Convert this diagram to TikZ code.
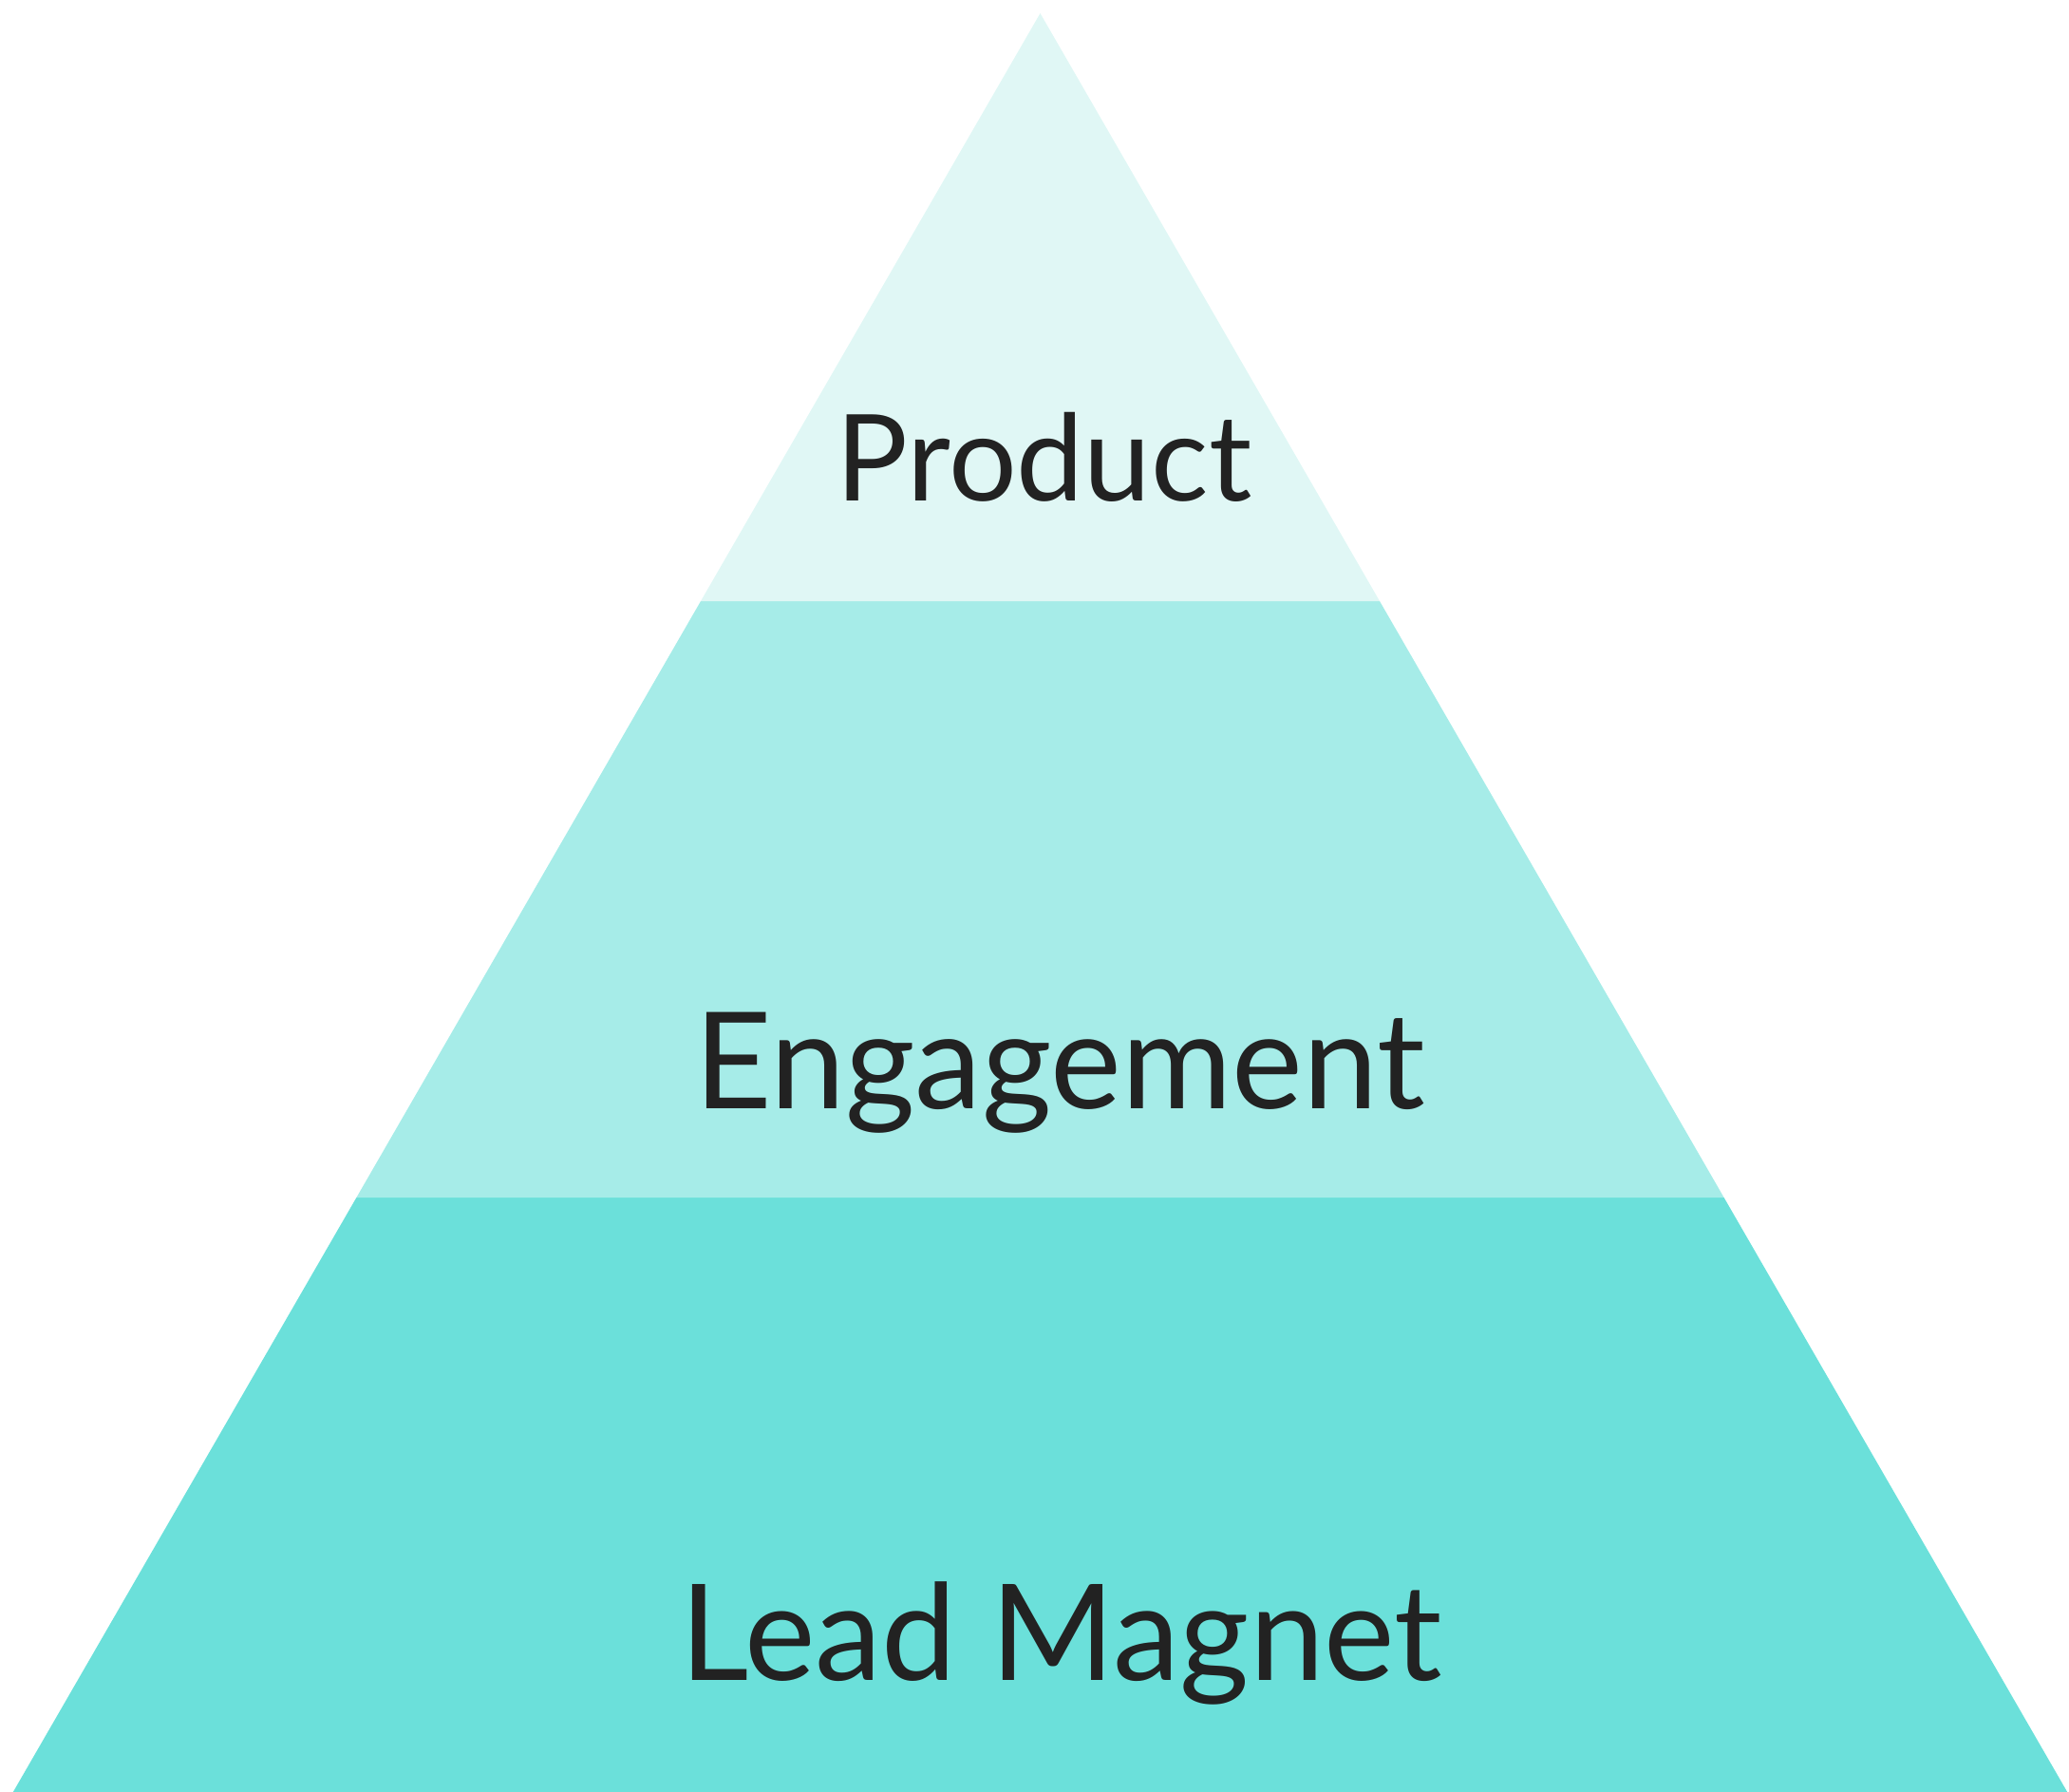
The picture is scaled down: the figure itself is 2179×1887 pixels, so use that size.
\documentclass[tikz,border=0pt]{standalone}
\usepackage{fontspec}
\setmainfont{Lato}
\usepackage{tikz}
\usetikzlibrary{calc}
\definecolor{tiertop}{HTML}{E0F7F5}
\definecolor{tiermid}{HTML}{A6ECE8}
\definecolor{tierbot}{HTML}{6BE0DA}
\definecolor{labeltext}{HTML}{222222}
\tikzset{tierlabel/.style={anchor=base,inner sep=0pt,text=labeltext}}

\begin{document}
\begin{tikzpicture}[x=1pt,y=-1pt]
  \useasboundingbox (0,0) rectangle (2179,1887);
  \coordinate (T) at (1095.5,14);
  \coordinate (L) at (13.8,1887);
  \coordinate (R) at (2177.2,1887);
  \coordinate (UL) at (738,633);
  \coordinate (UR) at (1453,633);
  \coordinate (ML) at (375.4,1261);
  \coordinate (MR) at (1815.6,1261);
  \fill[tierbot] (ML) -- (MR) -- (R) -- (L) -- cycle;
  \fill[tiermid] (UL) -- (UR) -- (MR) -- (ML) -- cycle;
  \fill[tiertop] (T) -- (UR) -- (UL) -- cycle;
  \node[tierlabel,font=\fontsize{126.6}{130}\selectfont] (product) at (1099.5,527) {Product};
  \node[tierlabel,font=\fontsize{141.5}{145}\selectfont] (engage) at (1116,1167) {Engagement};
  \node[tierlabel,font=\fontsize{141}{145}\selectfont] (lead) at (1118,1769) {Lead Magnet};
\end{tikzpicture}
\end{document}
